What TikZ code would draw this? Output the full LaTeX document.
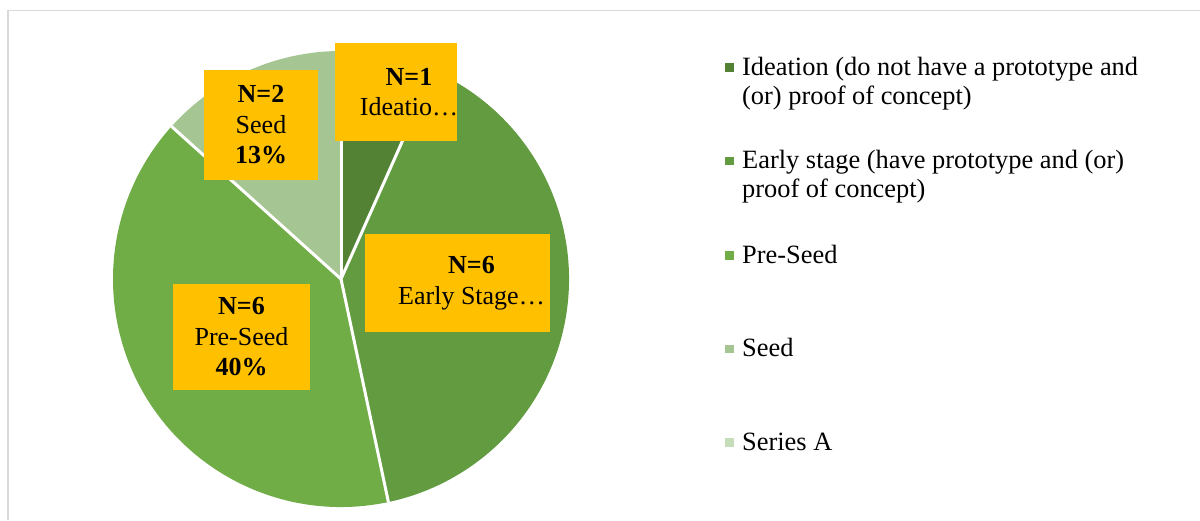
\documentclass[tikz,border=0pt]{standalone}
\usepackage{fontspec}
\setmainfont{Liberation Serif}
\usepackage{tikz}

\definecolor{ideaGreen}{HTML}{548235}
\definecolor{earlyGreen}{HTML}{629B40}
\definecolor{preGreen}{HTML}{70AD47}
\definecolor{seedGreen}{HTML}{A5C693}
\definecolor{seriesGreen}{HTML}{C5DDB8}
\definecolor{labelGold}{HTML}{FFC000}
\definecolor{frameGray}{HTML}{D9D9D9}

\begin{document}
\begin{tikzpicture}[
    x=1pt, y=-1pt,
    % Yellow data labels sitting on the slices
    etiqueta/.style={fill=labelGold, inner sep=0pt},
    textoEtiqueta/.style={align=center, inner sep=0pt, font=\fontsize{26}{30.5}\selectfont},
    % White gaps between the slices
    separador/.style={draw=white, line width=3pt},
    % Legend entries (base = baseline of the last line)
    cuadro/.style={inner sep=0pt, minimum size=8.5pt},
    textoLeyenda/.style={anchor=base west, align=left, inner sep=0pt, font=\fontsize{26.4}{29}\selectfont}
]
    \useasboundingbox (0,0) rectangle (1200,520);

    % --- CHART FRAME ---
    \draw[frameGray, line width=1.5pt] (8,520) -- (8,10.5) -- (1200,10.5);

    % --- PIE SLICES (N = 1, 6, 6, 2, 0 out of 15) ---
    \coordinate (centro) at (341,279);
    \begin{scope}[shift={(centro)}, x=1pt, y=1pt]
        \fill[ideaGreen]  (0,0) -- (90:228)  arc[start angle=90,  end angle=66,   radius=228] -- cycle;
        \fill[earlyGreen] (0,0) -- (66:228)  arc[start angle=66,  end angle=-78,  radius=228] -- cycle;
        \fill[preGreen]   (0,0) -- (-78:228) arc[start angle=-78, end angle=-222, radius=228] -- cycle;
        \fill[seedGreen]  (0,0) -- (138:228) arc[start angle=138, end angle=90,   radius=228] -- cycle;
        \foreach \a in {90,66,-78,138}
            \draw[separador] (0,0) -- (\a:228);
    \end{scope}

    % --- DATA LABELS ---
    \node[etiqueta, minimum width=122pt, minimum height=98pt] (bIdea) at (396,92) {};
    \node[textoEtiqueta] (tIdea) at ([xshift=13pt]bIdea.center) {\textbf{N=1}\\Ideatio…};

    \node[etiqueta, minimum width=114pt, minimum height=110pt] (bSeed) at (261,125) {};
    \node[textoEtiqueta] (tSeed) at (bSeed.center) {\textbf{N=2}\\Seed\\\textbf{13\%}};

    \node[etiqueta, minimum width=185pt, minimum height=98pt] (bEarly) at (457.5,283) {};
    \node[textoEtiqueta] (tEarly) at ([xshift=14pt]bEarly.center) {\textbf{N=6}\\Early Stage…};

    \node[etiqueta, minimum width=137pt, minimum height=106pt] (bPre) at (241.5,337) {};
    \node[textoEtiqueta] (tPre) at (bPre.center) {\textbf{N=6}\\Pre-Seed\\\textbf{40\%}};

    % --- LEGEND ---
    \node[cuadro, fill=ideaGreen]   (sIdea)   at (729.5,67.5)  {};
    \node[cuadro, fill=earlyGreen]  (sEarly)  at (729.5,161)   {};
    \node[cuadro, fill=preGreen]    (sPre)    at (729.5,255.5) {};
    \node[cuadro, fill=seedGreen]   (sSeed)   at (729.5,349)   {};
    \node[cuadro, fill=seriesGreen] (sSeries) at (729.5,442.5) {};

    \node[textoLeyenda] (lIdea)   at (742,104)   {Ideation (do not have a prototype and\\(or) proof of concept)};
    \node[textoLeyenda] (lEarly)  at (742,197.5) {Early stage (have prototype and (or)\\proof of concept)};
    \node[textoLeyenda] (lPre)    at (742,263)   {Pre-Seed};
    \node[textoLeyenda] (lSeed)   at (742,356.5) {Seed};
    \node[textoLeyenda] (lSeries) at (742,450)   {Series A};

\end{tikzpicture}
\end{document}
